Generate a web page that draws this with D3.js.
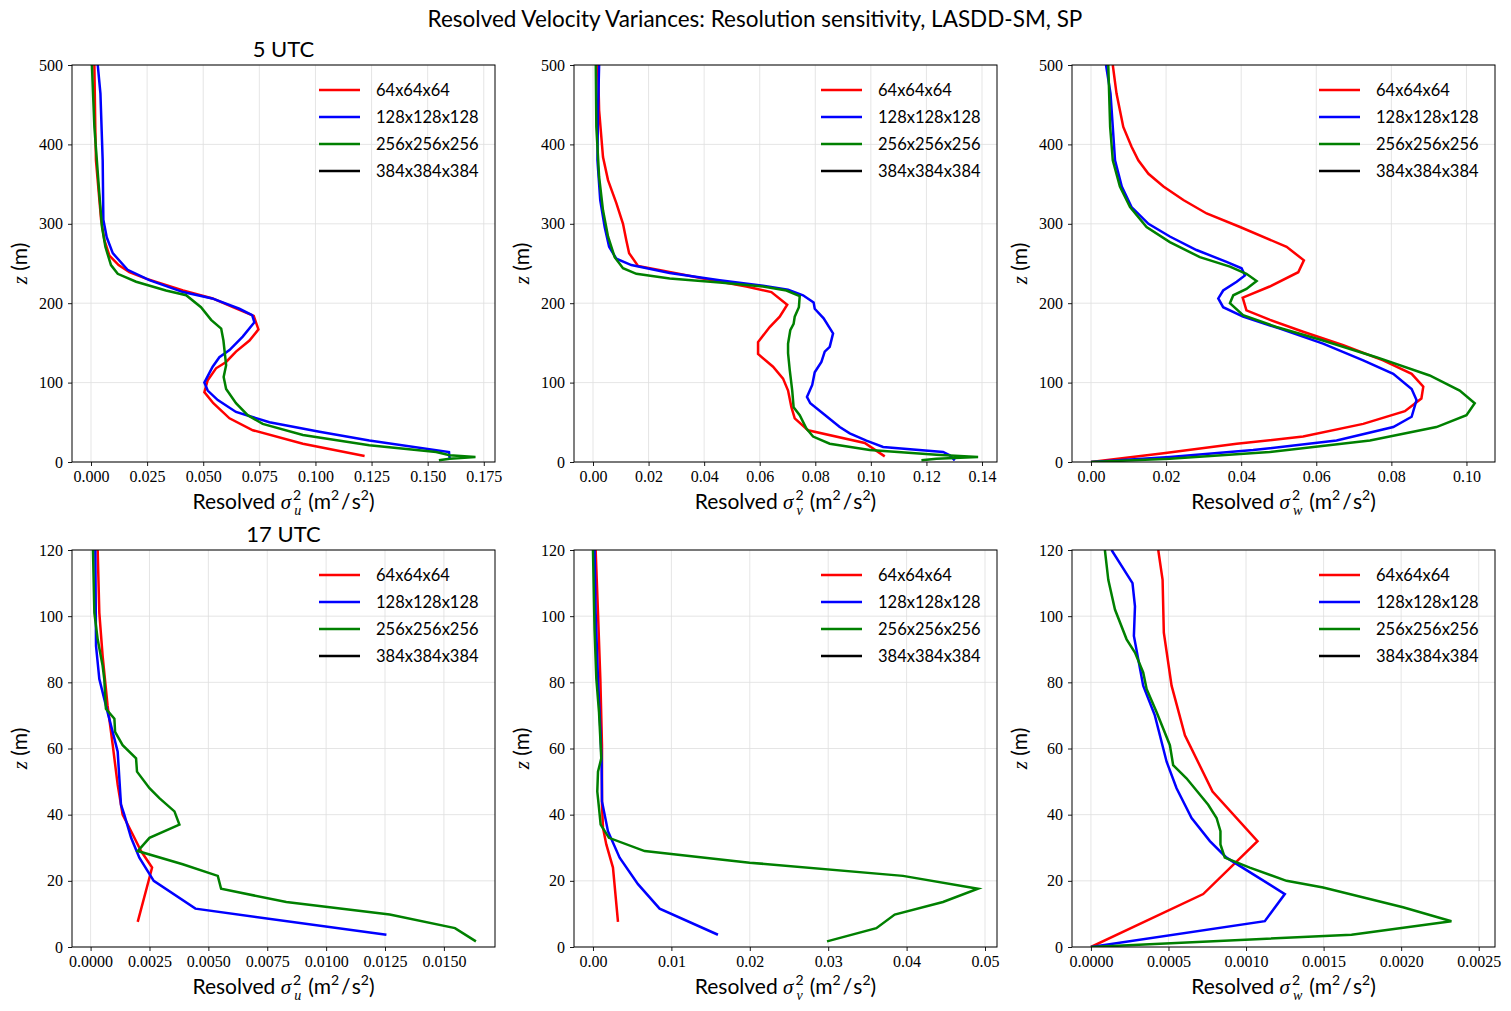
<!DOCTYPE html>
<html>
<head>
<meta charset="utf-8">
<script src="https://cdn.jsdelivr.net/npm/d3@7"></script>
<style>
  body { margin: 0; background: #fff; }
  svg { display: block; }
</style>
</head>
<body>
<div id="chart"></div>
<script>
// series names + colours (legend shows 4 even though 384 isn't drawn)
var runs = ["64x64x64", "128x128x128", "256x256x256", "384x384x384"];
var runColors = ["#ff0000", "#0000ff", "#008000", "#000000"];

// ---- 5 UTC, sigma_u^2 : [value, z]
var u05_64 = [[0.0015,500],[0.0019,422],[0.0022,380],[0.0045,305],[0.006,279],[0.0082,260],[0.0123,248],[0.0171,239],[0.0245,231],[0.041,216],[0.0542,206],[0.0632,195],[0.0725,184],[0.0746,167],[0.0706,153],[0.0646,139],[0.0602,126],[0.0557,118],[0.052,103],[0.0505,88],[0.0545,74],[0.0617,55],[0.0721,40],[0.0944,23],[0.1219,7.6]];
var u05_128 = [[0.003,500],[0.0042,464],[0.0052,380],[0.0055,305],[0.007,283],[0.0097,263],[0.0163,242],[0.026,229],[0.041,214],[0.054,206],[0.0661,193],[0.0718,185],[0.0728,176],[0.0676,158],[0.0617,141],[0.0572,132],[0.0542,120],[0.0505,100],[0.052,90],[0.0565,78],[0.0646,63],[0.0795,50],[0.1018,38],[0.124,27],[0.1595,12.6],[0.1598,4.2]];
var u05_256 = [[0.0004,500],[0.0015,422],[0.0037,338],[0.0049,296],[0.0064,271],[0.0089,248],[0.0119,237],[0.0201,227],[0.0334,216],[0.0424,210],[0.049,195],[0.0535,179],[0.058,168],[0.059,153],[0.0602,122],[0.0591,107],[0.0602,92],[0.0646,74],[0.0698,59],[0.0765,48],[0.0944,34],[0.124,21],[0.1538,12.6],[0.1598,8.4],[0.1713,6.3],[0.1598,4.2],[0.155,2.1]];

// ---- 5 UTC, sigma_v^2
var v05_64 = [[0.0018,500],[0.0022,443],[0.0036,384],[0.0054,355],[0.0084,326],[0.0108,300],[0.012,279],[0.013,263],[0.0162,247],[0.0252,241],[0.0396,231],[0.0552,221],[0.0642,214],[0.0699,198],[0.0672,183],[0.0636,170],[0.0594,151],[0.0594,136],[0.0648,120],[0.0684,105],[0.0702,90],[0.0714,69],[0.0726,55],[0.0774,40],[0.0978,24],[0.105,7.1]];
var v05_128 = [[0.0022,500],[0.0018,443],[0.0016,380],[0.0026,330],[0.0042,296],[0.0058,271],[0.0084,256],[0.0138,248],[0.0276,238],[0.0456,229],[0.0612,222],[0.0702,217],[0.0756,210],[0.0794,201],[0.0798,193],[0.083,181],[0.0864,162],[0.0852,145],[0.0834,139],[0.0822,126],[0.0798,113],[0.0789,97],[0.077,82],[0.0782,74],[0.0828,61],[0.0888,44],[0.0924,36],[0.0984,27],[0.1044,19],[0.126,12.6],[0.1284,8.4],[0.1302,2.1]];
var v05_256 = [[0.001,500],[0.0012,422],[0.0022,359],[0.0036,317],[0.0054,284],[0.0078,258],[0.0108,244],[0.0156,237],[0.0276,231],[0.0456,226],[0.0612,221],[0.0696,216],[0.0744,209],[0.0741,195],[0.0726,183],[0.0722,174],[0.071,166],[0.0702,149],[0.0702,137],[0.0708,116],[0.0717,90],[0.0722,69],[0.0744,59],[0.0768,42],[0.0792,32],[0.0852,23],[0.0996,15],[0.1236,9.2],[0.1386,6.3],[0.1236,4.2],[0.1182,2.1]];

// ---- 5 UTC, sigma_w^2
var w05_64 = [[0.0058,500],[0.0068,464],[0.0086,422],[0.0108,397],[0.0126,380],[0.0153,363],[0.0193,347],[0.0246,330],[0.0308,313],[0.0397,296],[0.0521,271],[0.0567,254],[0.0552,239],[0.0476,221],[0.0404,207],[0.0414,191],[0.0477,179],[0.0565,164],[0.0672,147],[0.0778,128],[0.0854,111],[0.0885,95],[0.088,80],[0.0836,64],[0.0725,48],[0.0565,32],[0.0388,23],[0.0193,11],[0,0]];
var w05_128 = [[0.004,500],[0.0052,464],[0.0058,422],[0.0064,380],[0.0082,347],[0.0108,321],[0.0153,300],[0.021,284],[0.0281,267],[0.0361,252],[0.0401,244],[0.041,235],[0.0388,227],[0.0352,216],[0.0339,206],[0.0352,195],[0.0405,183],[0.0503,168],[0.0618,149],[0.0725,128],[0.0805,111],[0.0854,92],[0.0867,78],[0.0854,57],[0.0805,44],[0.0654,27],[0.0432,15],[0.021,6.3],[0,0]];
var w05_256 = [[0.0046,500],[0.0051,422],[0.0058,380],[0.0077,347],[0.0104,321],[0.0148,296],[0.021,277],[0.029,258],[0.037,246],[0.0414,237],[0.0441,228],[0.0414,218],[0.0379,210],[0.037,200],[0.0405,185],[0.0494,170],[0.0618,153],[0.076,132],[0.0902,109],[0.0982,90],[0.1022,74],[0.1,59],[0.092,44],[0.0743,27],[0.0476,12.6],[0.021,4.2],[0,0]];

// ---- 17 UTC, sigma_u^2
var u17_64 = [[0.0003,120],[0.00037,101],[0.00051,88],[0.00072,73],[0.00094,61],[0.00115,49],[0.00136,40],[0.00172,35],[0.00214,29],[0.00261,24],[0.0025,21],[0.002,7.6]];
var u17_128 = [[0.0002,120],[0.00023,91],[0.00037,81],[0.00072,71],[0.00101,63],[0.00115,59],[0.00122,51],[0.00129,43],[0.00143,40],[0.00172,33],[0.00207,27],[0.00268,20],[0.00445,11.6],[0.01256,3.7]];
var u17_256 = [[0.0001,120],[0.00016,101],[0.0003,93],[0.00051,85],[0.00058,81],[0.00065,72],[0.00101,69],[0.00104,65],[0.00136,61],[0.00193,57],[0.00197,53],[0.0025,48],[0.00292,45],[0.00356,41],[0.00377,37],[0.0025,33],[0.002,29],[0.00391,25],[0.0054,21.5],[0.00554,17.6],[0.00831,13.6],[0.0127,9.8],[0.01547,5.7],[0.01636,1.7]];

// ---- 17 UTC, sigma_v^2
var v17_64 = [[0.00034,120],[0.00064,101],[0.00094,81],[0.00115,61],[0.00115,43],[0.00128,36],[0.0017,31],[0.00255,24],[0.00319,7.6]];
var v17_128 = [[0.0002,120],[0.00034,101],[0.00064,81],[0.00094,66],[0.0011,56],[0.00115,44],[0.0014,41],[0.00191,35],[0.0034,27],[0.00574,19],[0.0085,11.6],[0.01594,3.7]];
var v17_256 = [[0.0000,120],[0.0002,96],[0.00043,81],[0.00077,71],[0.00098,61],[0.00106,57],[0.00064,53],[0.00055,47],[0.00077,42],[0.00098,37],[0.00204,33],[0.00659,29],[0.01998,25.5],[0.03954,21.5],[0.0491,17.6],[0.04464,13.6],[0.03848,9.8],[0.03614,5.7],[0.02985,1.7]];

// ---- 17 UTC, sigma_w^2
var w17_64 = [[0.000434,120],[0.000462,111],[0.00047,95],[0.00052,79],[0.000606,64],[0.000784,47],[0.001074,32],[0.000724,16],[0,0]];
var w17_128 = [[0.000133,120],[0.000268,110],[0.000284,103],[0.000277,94],[0.000337,79],[0.000412,70],[0.000488,56],[0.000552,48],[0.000649,39],[0.000767,32],[0.000874,27],[0.00125,16],[0.001121,7.8],[0,0]];
var w17_256 = [[0.00009,120],[0.000112,111],[0.000155,102],[0.00023,93],[0.000284,89],[0.000337,83],[0.000359,78],[0.000423,71],[0.000509,61],[0.00053,55],[0.000616,51],[0.000756,43],[0.00081,39],[0.000835,35],[0.000835,31],[0.000863,27],[0.001024,24],[0.001261,20],[0.001497,18],[0.002012,12],[0.002324,7.8],[0.00168,3.7],[0,0]];

// axis limits / ticks
var zTicksTop = [0, 100, 200, 300, 400, 500];
var zTicksBottom = [0, 20, 40, 60, 80, 100, 120];
var xTicksU05 = [0, 0.025, 0.05, 0.075, 0.1, 0.125, 0.15, 0.175];
var xTicksV05 = [0, 0.02, 0.04, 0.06, 0.08, 0.1, 0.12, 0.14];
var xTicksW05 = [0, 0.02, 0.04, 0.06, 0.08, 0.1];
var xTicksU17 = [0, 0.0025, 0.005, 0.0075, 0.01, 0.0125, 0.015];
var xTicksV17 = [0, 0.01, 0.02, 0.03, 0.04, 0.05];
var xTicksW17 = [0, 0.0005, 0.001, 0.0015, 0.002, 0.0025];

var panels = [
    { col: 0, row: 0, series: [u05_64, u05_128, u05_256], xlim: [-0.00847, 0.1800], xticks: xTicksU05, fmt: ".3f", sub: "u", zmax: 500, zticks: zTicksTop, title: "5 UTC" },
    { col: 1, row: 0, series: [v05_64, v05_128, v05_256], xlim: [-0.00684, 0.1454], xticks: xTicksV05, fmt: ".2f", sub: "v", zmax: 500, zticks: zTicksTop },
    { col: 2, row: 0, series: [w05_64, w05_128, w05_256], xlim: [-0.00506, 0.1076], xticks: xTicksW05, fmt: ".2f", sub: "w", zmax: 500, zticks: zTicksTop },
    { col: 0, row: 1, series: [u17_64, u17_128, u17_256], xlim: [-0.00079, 0.01717], xticks: xTicksU17, fmt: ".4f", sub: "u", zmax: 120, zticks: zTicksBottom, title: "17 UTC" },
    { col: 1, row: 1, series: [v17_64, v17_128, v17_256], xlim: [-0.00242, 0.05153], xticks: xTicksV17, fmt: ".2f", sub: "v", zmax: 120, zticks: zTicksBottom },
    { col: 2, row: 1, series: [w17_64, w17_128, w17_256], xlim: [-0.000122, 0.002605], xticks: xTicksW17, fmt: ".4f", sub: "w", zmax: 120, zticks: zTicksBottom }
];

var W = 1511, H = 1011;
var colX = [72, 574, 1072];
var rowY = [65, 550];
var pw = 423, ph = 397;
var sans = "Lato, 'Open Sans', sans-serif";
var serif = "'Liberation Serif', 'DejaVu Serif', serif";

var svg = d3.select("#chart").append("svg")
    .attr("width", W)
    .attr("height", H);
svg.append("rect").attr("width", W).attr("height", H).attr("fill", "#fff");

svg.append("text")
    .attr("x", 755)
    .attr("y", 27)
    .attr("text-anchor", "middle")
    .style("font-family", sans)
    .style("font-size", "22.5px")
    .text("Resolved Velocity Variances: Resolution sensitivity, LASDD-SM, SP");

panels.forEach(function(p, i) {
    var g = svg.append("g")
        .attr("transform", "translate(" + colX[p.col] + "," + rowY[p.row] + ")");

    var x = d3.scaleLinear().domain(p.xlim).range([0, pw]);
    var y = d3.scaleLinear().domain([0, p.zmax]).range([ph, 0]);

    // grid
    g.append("g").selectAll("line").data(p.xticks).enter().append("line")
        .attr("x1", function(d) { return x(d); }).attr("x2", function(d) { return x(d); })
        .attr("y1", 0).attr("y2", ph)
        .attr("stroke", "#dedede").attr("stroke-width", 0.8);
    g.append("g").selectAll("line").data(p.zticks).enter().append("line")
        .attr("y1", function(d) { return y(d); }).attr("y2", function(d) { return y(d); })
        .attr("x1", 0).attr("x2", pw)
        .attr("stroke", "#dedede").attr("stroke-width", 0.8);

    // lines
    g.append("clipPath").attr("id", "clip" + i)
        .append("rect").attr("width", pw).attr("height", ph);
    var line = d3.line()
        .x(function(d) { return x(d[0]); })
        .y(function(d) { return y(d[1]); });
    g.append("g").attr("clip-path", "url(#clip" + i + ")")
        .selectAll("path").data(p.series).enter().append("path")
        .attr("d", line)
        .attr("fill", "none")
        .attr("stroke", function(d, j) { return runColors[j]; })
        .attr("stroke-width", 2.5)
        .attr("stroke-linejoin", "miter");

    // axes
    var xAxis = g.append("g")
        .attr("transform", "translate(0," + ph + ")")
        .call(d3.axisBottom(x).tickValues(p.xticks).tickFormat(d3.format(p.fmt)).tickSize(4).tickPadding(5));
    var yAxis = g.append("g")
        .call(d3.axisLeft(y).tickValues(p.zticks).tickSize(4).tickPadding(5));
    [xAxis, yAxis].forEach(function(a) {
        a.select(".domain").remove();
        a.selectAll(".tick text")
            .style("font-family", serif)
            .style("font-size", "16px")
            .attr("fill", "#000");
        a.selectAll(".tick line").attr("stroke", "#000").attr("stroke-width", 0.9);
    });

    // frame
    g.append("rect")
        .attr("width", pw).attr("height", ph)
        .attr("fill", "none").attr("stroke", "#000").attr("stroke-width", 1);

    // x label: Resolved sigma_sub^2 (m^2/s^2)
    var xl = g.append("text")
        .attr("x", pw / 2)
        .attr("y", ph + 47)
        .attr("text-anchor", "middle")
        .style("font-family", sans)
        .style("font-size", "21px");
    xl.append("tspan").text("Resolved ");
    xl.append("tspan").style("font-family", serif).style("font-style", "italic").text("σ");
    xl.append("tspan").style("font-size", "14px").attr("dx", 2).attr("dy", -9).text("2");
    xl.append("tspan").style("font-family", serif).style("font-style", "italic").style("font-size", "14px")
        .attr("dx", -7).attr("dy", 15).text(p.sub);
    xl.append("tspan").attr("dx", 7).attr("dy", -6).text("(m");
    xl.append("tspan").style("font-size", "14px").attr("dy", -9).text("2");
    xl.append("tspan").attr("dx", 2).attr("dy", 9).text("/");
    xl.append("tspan").attr("dx", 2).text("s");
    xl.append("tspan").style("font-size", "14px").attr("dy", -9).text("2");
    xl.append("tspan").attr("dy", 9).text(")");

    // y label
    var yl = g.append("text")
        .attr("transform", "translate(-45," + (ph / 2) + ") rotate(-90)")
        .attr("text-anchor", "middle")
        .style("font-family", sans)
        .style("font-size", "21px");
    yl.append("tspan").style("font-family", serif).style("font-style", "italic").text("z");
    yl.append("tspan").text(" (m)");

    if (p.title) {
        g.append("text")
            .attr("x", pw / 2)
            .attr("y", -8)
            .attr("text-anchor", "middle")
            .style("font-family", sans)
            .style("font-size", "22px")
            .text(p.title);
    }

    // legend
    var legend = g.selectAll(".legend")
        .data(runs)
        .enter().append("g")
        .attr("class", "legend")
        .attr("transform", function(d, j) { return "translate(0," + (25 + j * 27) + ")"; });
    legend.append("line")
        .attr("x1", 247).attr("x2", 288)
        .attr("stroke", function(d, j) { return runColors[j]; })
        .attr("stroke-width", 2.5);
    legend.append("text")
        .attr("x", 304)
        .attr("dy", "0.35em")
        .style("font-family", sans)
        .style("font-size", "16.5px")
        .text(function(d) { return d; });
});
</script>
</body>
</html>
